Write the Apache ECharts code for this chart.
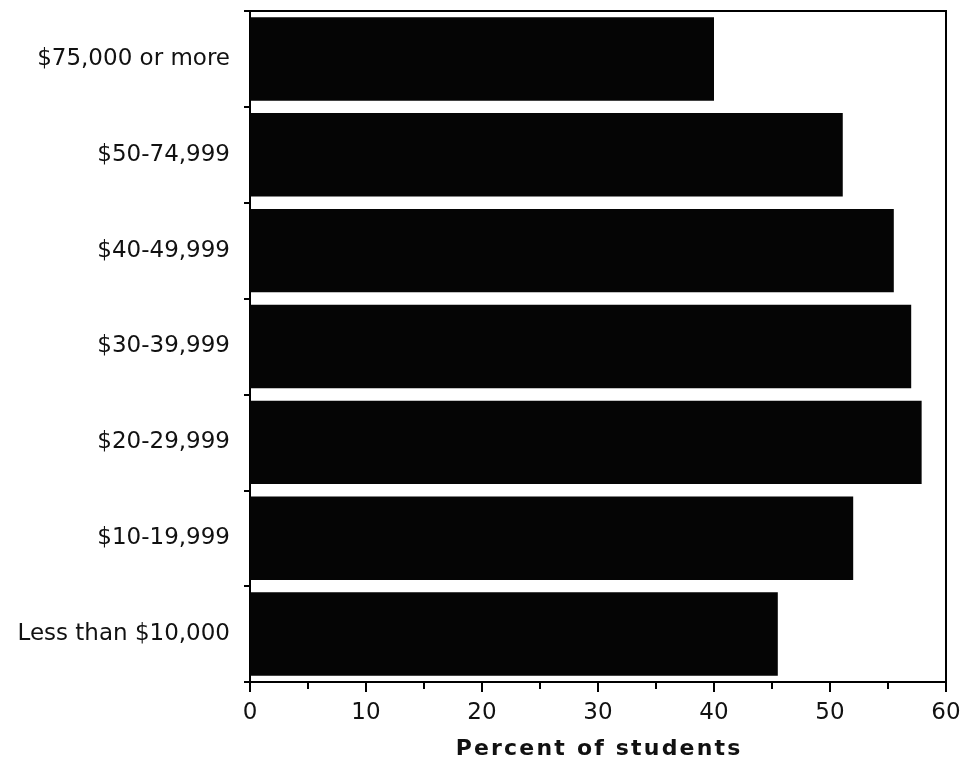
<!DOCTYPE html>
<html>
<head>
<meta charset="utf-8">
<script src="https://cdn.jsdelivr.net/npm/echarts@6/dist/echarts.min.js"></script>
<style>
html,body{margin:0;padding:0;background:#fff;}
#chart{width:968px;height:777px;}
</style>
</head>
<body>
<div id="chart"></div>
<script>
const categories = ["$75,000 or more", "$50-74,999", "$40-49,999", "$30-39,999", "$20-29,999", "$10-19,999", "Less than $10,000"];
const percentStudents = [40.0, 51.1, 55.5, 57.0, 57.9, 52.0, 45.5];
const xTicks = [0, 10, 20, 30, 40, 50, 60];

const spread = (s, sp) => String(s).split('').join(sp);

const chart = echarts.init(document.getElementById('chart'), null, {renderer: 'canvas'});
chart.setOption({
  animation: false,
  backgroundColor: '#fff',
  grid: {
    left: 250, right: 22, top: 11, bottom: 95,
    show: true, borderColor: '#000', borderWidth: 2, backgroundColor: 'transparent'
  },
  xAxis: {
    type: 'value', min: xTicks[0], max: xTicks[xTicks.length - 1], interval: 10,
    name: spread('Percent of students', '\u200A'), nameLocation: 'middle', nameGap: 56,
    nameTextStyle: {fontFamily: 'DejaVu Sans', fontWeight: 'bold', fontSize: 22, color: '#111'},
    axisLine: {show: true, lineStyle: {color: '#000', width: 2}},
    axisTick: {show: true, length: 10, lineStyle: {color: '#000', width: 2}},
    minorTick: {show: true, splitNumber: 2, length: 7, lineStyle: {color: '#000', width: 2}},
    splitLine: {show: false},
    axisLabel: {margin: 20, fontFamily: 'DejaVu Sans', fontSize: 23, color: '#111'}
  },
  yAxis: {
    type: 'category', data: categories, inverse: true,
    axisLine: {show: true, lineStyle: {color: '#000', width: 2}},
    axisTick: {show: true, length: 6, lineStyle: {color: '#000', width: 2}},
    axisLabel: {margin: 20, fontFamily: 'DejaVu Sans', fontSize: 23, color: '#111'}
  },
  series: [{
    type: 'bar', data: percentStudents, barWidth: '87%',
    itemStyle: {color: '#050505'}
  }]
});
</script>
</body>
</html>
